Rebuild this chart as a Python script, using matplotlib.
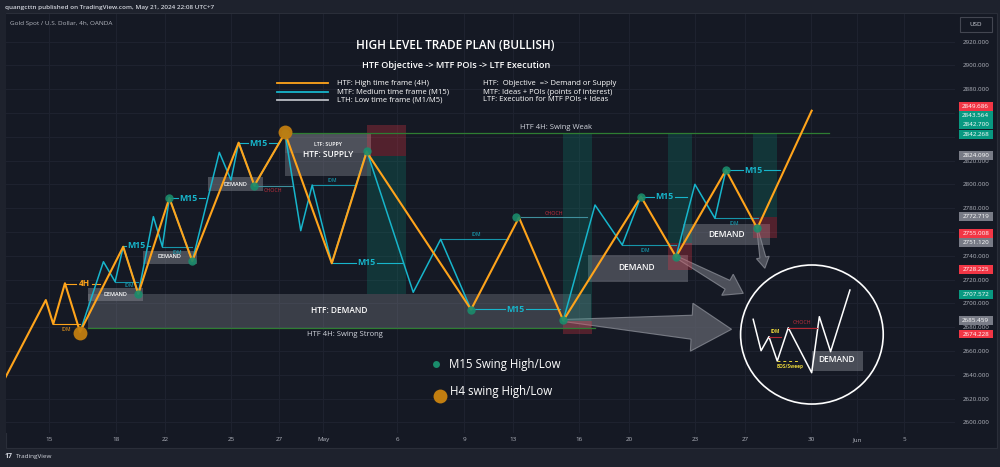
import numpy as np
import matplotlib.pyplot as plt
from matplotlib.patches import Rectangle, Ellipse, Polygon

plt.rcParams['font.family'] = ['Open Sans', 'DejaVu Sans']

BG = '#151924'
FRAME = '#1e222d'
GRID = '#1f2330'
ORANGE = '#ffa41b'
CYAN = '#17b5cb'
DOT_GREEN = '#1a8c6c'
DOT_ORANGE = '#c27e10'
RED_TXT = '#c9303f'
TXT = '#d1d4dc'
AXIS_TXT = '#b2b5be'

# ---- axes: x in trading days from the "15" tick, y in USD ----
date_pos = [0, 3.0, 5.18, 8.11, 10.24, 12.2, 15.49, 18.47, 20.64, 23.58, 25.8, 28.73, 30.96, 33.89, 35.93, 38.02]
date_lbl = ['15', '18', '22', '25', '27', 'May', '6', '9', '13', '16', '20', '23', '27', '30', 'Jun', '5']
price_ticks = np.arange(2600, 2921, 20)

# HTF (4H) swing path
htf_x = [-1.93, -0.12, 0.21, 0.73, 1.40, 3.32, 3.99, 5.37, 6.39, 8.45, 9.15, 10.51,
         12.59, 14.14, 18.78, 20.91, 22.88, 26.33, 27.89, 30.11, 31.50, 33.92]
htf_y = [2637.2, 2702.8, 2682.6, 2716.9, 2676.0, 2747.6, 2708.0, 2788.6, 2735.6, 2835.1, 2799.1, 2843.2,
         2733.7, 2827.3, 2694.8, 2772.2, 2685.6, 2789.8, 2739.2, 2812.1, 2763.1, 2862.0]

# MTF (M15) path, nan = break
nan = np.nan
mtf_x = [1.40, 2.44, 2.96, 3.32, 3.99, 4.66, 5.06, 5.37, 6.39, 7.59, 8.11, 8.45, 9.15, 10.51,
         11.21, 11.72, 12.59, 14.14, 16.21, 17.43, 18.78, nan,
         22.88, 24.29, 25.50, 26.33, nan,
         27.89, 28.73, 29.62, 30.11]
mtf_y = [2676.0, 2735.0, 2718.2, 2747.6, 2708.0, 2772.9, 2747.6, 2788.6, 2735.6, 2827.0, 2803.7, 2835.1, 2799.1, 2843.2,
         2761.1, 2799.5, 2733.7, 2828.5, 2709.3, 2753.9, 2694.8, nan,
         2685.6, 2782.7, 2749.1, 2789.8, nan,
         2739.2, 2800.1, 2771.5, 2812.1]

# swing points
m15_dot_x = [3.99, 5.37, 6.39, 9.15, 10.51, 14.14, 18.78, 20.76, 22.88, 26.33, 27.89, 30.11, 31.50]
m15_dot_y = [2708.0, 2788.6, 2735.6, 2799.1, 2843.2, 2828.3, 2694.8, 2772.6, 2685.6, 2789.8, 2739.2, 2812.1, 2763.1]
h4_dot_x = [1.40, 10.51]
h4_dot_y = [2675.0, 2843.8]

# M15 swing levels: start, end, price, label x
m15_x0 = [3.32, 5.37, 8.45, 12.59, 18.78, 26.33, 30.11]
m15_x1 = [4.51, 6.96, 10.20, 15.70, 22.73, 28.36, 32.51]
m15_lvl = [2748.5, 2788.3, 2834.6, 2734.2, 2695.0, 2789.7, 2812.1]
m15_lx = [3.92, 6.21, 9.32, 14.14, 20.76, 27.36, 31.32]

# IDM levels (cyan): start, end, price, label x, label price
idm_x0 = [2.96, 5.06, 11.72, 17.43, 25.50, 29.62]
idm_x1 = [3.98, 6.39, 13.62, 20.44, 27.89, 31.55]
idm_lvl = [2718.2, 2747.1, 2799.5, 2753.9, 2749.1, 2771.5]
idm_lx = [3.58, 5.72, 12.59, 19.03, 26.52, 30.48]
idm_ly = [2714.6, 2742.9, 2803.1, 2757.5, 2744.6, 2767.3]

# CHOCH levels
choch_x0 = [9.15, 20.99]
choch_x1 = [10.88, 23.92]
choch_lvl = [2798.9, 2772.3]
choch_lx = [9.99, 22.48]
choch_ly = [2795.3, 2775.7]

# position tools (entry / stop / target)
pos_x0 = [14.14, 22.88, 27.55, 31.32]
pos_x1 = [15.88, 24.14, 28.60, 32.39]
pos_entry = [2824.090, 2685.459, 2751.120, 2772.719]
pos_stop = [2849.686, 2674.228, 2728.225, 2755.008]
pos_target = [2707.572, 2843.564, 2842.700, 2842.268]

# zones: x0, x1, top, bottom, label, label x, label y, font size, alpha
zone_x0 = [1.76, 10.51, 10.51, 1.77, 4.19, 7.10, 23.96, 28.21, 33.92]
zone_x1 = [24.11, 14.33, 14.33, 4.19, 6.59, 9.52, 28.44, 32.07, 36.19]
zone_top = [2707.9, 2843.2, 2843.2, 2712.7, 2744.3, 2806.0, 2740.7, 2766.5, 2660.2]
zone_bot = [2679.3, 2807.0, 2826.4, 2702.0, 2733.1, 2794.7, 2718.2, 2749.1, 2643.4]
zone_lbl = ['HTF: DEMAND', 'HTF: SUPPLY', 'LTF: SUPPY', 'DEMAND', 'DEMAND', 'DEMAND', 'DEMAND', 'DEMAND', 'DEMAND']
zone_lx = [12.93, 12.41, 12.41, 2.96, 5.36, 8.29, 26.14, 30.14, 35.03]
zone_ly = [2693.8, 2825.3, 2833.8, 2707.3, 2739.0, 2800.3, 2730.0, 2758.1, 2652.4]
zone_fs = [6.0, 6.0, 3.8, 4.0, 4.0, 4.0, 6.0, 6.0, 6.0]
zone_alpha = [0.32, 0.38, 0.18, 0.45, 0.45, 0.45, 0.42, 0.42, 0.45]

# inset (LTF execution sketch)
zig_x = [31.32, 31.67, 32.02, 32.39, 32.88, 33.92, 34.26, 34.76, 35.62]
zig_y = [2686.6, 2660.2, 2672.0, 2651.5, 2679.5, 2641.7, 2688.8, 2659.4, 2711.2]

# arrows: start, tip, (tail, neck, head, head length) in pixels
arrow_start = [(22.88, 2685.6), (27.89, 2739.2), (31.50, 2763.1)]
arrow_end = [(30.36, 2678.2), (30.88, 2708.4), (31.84, 2729.5)]
arrow_size = [(2, 24, 48, 40), (2, 10, 24, 18), (1, 6, 13, 11)]

fig = plt.figure(figsize=(10, 4.67), dpi=100)
fig.patch.set_facecolor(FRAME)
fig.patches.append(Rectangle((0.006, 1 - 448 / 467), 0.991, (448 - 13.3) / 467, transform=fig.transFigure,
                             facecolor=BG, edgecolor='#2a2e39', lw=0.8, zorder=-10))
ax = fig.add_axes([0.006, 1 - 433 / 467, 0.949, 419 / 467])
ax.set_facecolor(BG)
ax.set_xlim(-1.89, 40.29)
ax.set_ylim(2591.0, 2943.3)
for s in ax.spines.values():
    s.set_visible(False)
ax.set_xticks(date_pos)
ax.set_xticklabels(date_lbl)
ax.set_yticks(price_ticks)
ax.set_yticklabels([f'{v:.3f}' for v in price_ticks])
ax.yaxis.tick_right()
ax.tick_params(axis='y', length=0, pad=5.8, labelsize=4.5, labelcolor=AXIS_TXT)
ax.tick_params(axis='x', length=0, pad=3.2, labelsize=4.5, labelcolor=AXIS_TXT)
ax.grid(True, color=GRID, lw=0.7, zorder=0)
ax.set_axisbelow(True)

# zones
for x0, x1, t, b, lbl, lx, ly, fs, a in zip(zone_x0, zone_x1, zone_top, zone_bot, zone_lbl,
                                            zone_lx, zone_ly, zone_fs, zone_alpha):
    ax.add_patch(Rectangle((x0, b), x1 - x0, t - b, facecolor='#8a8d96', alpha=a, lw=0, zorder=1))
    ax.text(lx, ly, lbl, fontsize=fs, color='white', ha='center', va='center', weight='semibold', zorder=6)

# arrows (drawn in pixel space from data points)
def fat_arrow(start, end, size):
    tail, neck, head, hl = size
    p0 = ax.transData.transform(start)
    p1 = ax.transData.transform(end)
    d = (p1 - p0) / np.hypot(*(p1 - p0))
    n = np.array([-d[1], d[0]])
    base = p1 - d * hl
    pts = np.array([p0 + n * tail / 2, base + n * neck / 2, base + n * head / 2, p1,
                    base - n * head / 2, base - n * neck / 2, p0 - n * tail / 2])
    pts = ax.transData.inverted().transform(pts)
    ax.add_patch(Polygon(pts, closed=True, facecolor='#60636d', edgecolor='#8d9099',
                         alpha=0.75, lw=0.8, zorder=1.5))

for s, e, sz in zip(arrow_start, arrow_end, arrow_size):
    fat_arrow(s, e, sz)

# position tools
for x0, x1, en, st, tg in zip(pos_x0, pos_x1, pos_entry, pos_stop, pos_target):
    ax.add_patch(Rectangle((x0, min(en, st)), x1 - x0, abs(st - en), facecolor='#f23645', alpha=0.28, lw=0, zorder=2))
    ax.add_patch(Rectangle((x0, min(en, tg)), x1 - x0, abs(tg - en), facecolor='#089981', alpha=0.22, lw=0, zorder=2))

# HTF swing weak / strong
ax.plot([10.51, 34.7], [2843.2, 2843.2], color='#2e7d32', lw=0.9, zorder=3)
ax.text(22.54, 2848.0, 'HTF 4H: Swing Weak', fontsize=5.5, color=TXT, ha='center', va='center', zorder=6)
ax.plot([1.76, 24.3], [2679.3, 2679.3], color='#2e7d32', lw=0.9, zorder=3)
ax.text(13.18, 2673.4, 'HTF 4H: Swing Strong', fontsize=5.5, color=TXT, ha='center', va='center', zorder=6)

# M15 levels with gap around the label
gap = 0.47
for x0, x1, y, lx in zip(m15_x0, m15_x1, m15_lvl, m15_lx):
    ax.plot([x0, lx - gap], [y, y], color=CYAN, lw=0.8, zorder=3)
    ax.plot([lx + gap, x1], [y, y], color=CYAN, lw=0.8, zorder=3)
    ax.text(lx, y, 'M15', fontsize=6.3, color=CYAN, ha='center', va='center', weight='bold', zorder=6)

for x0, x1, y, lx, ly in zip(idm_x0, idm_x1, idm_lvl, idm_lx, idm_ly):
    ax.plot([x0, x1], [y, y], color=CYAN, lw=0.8, alpha=0.8, zorder=3)
    ax.text(lx, ly, 'IDM', fontsize=3.6, color=CYAN, ha='center', va='center', zorder=6)

for x0, x1, y, lx, ly in zip(choch_x0, choch_x1, choch_lvl, choch_lx, choch_ly):
    ax.plot([x0, x1], [y, y], color='#3f8f9c', lw=0.8, zorder=3)
    ax.text(lx, ly, 'CHOCH', fontsize=3.8, color=RED_TXT, ha='center', va='center', zorder=6)

# 4H level and orange IDM
ax.plot([0.73, 1.58 - 0.36], [2716.3, 2716.3], color=ORANGE, lw=0.8, zorder=3)
ax.plot([1.58 + 0.36, 2.29], [2716.3, 2716.3], color=ORANGE, lw=0.8, zorder=3)
ax.text(1.58, 2716.3, '4H', fontsize=6.0, color=ORANGE, ha='center', va='center', weight='bold', zorder=6)
ax.plot([0.21, 1.40], [2682.4, 2682.4], color=ORANGE, lw=0.8, zorder=3)
ax.text(0.81, 2677.8, 'IDM', fontsize=3.6, color=ORANGE, ha='center', va='center', zorder=6)

# swing lines
ax.plot(mtf_x, mtf_y, color=CYAN, lw=1.1, zorder=4)
ax.plot(htf_x, htf_y, color=ORANGE, lw=1.5, zorder=4.5)
ax.plot(m15_dot_x, m15_dot_y, 'o', ms=6, color=DOT_GREEN, alpha=0.9, mec='none', zorder=5)
ax.plot(h4_dot_x, h4_dot_y, 'o', ms=10, color=DOT_ORANGE, alpha=0.95, mec='none', zorder=5)

# inset sketch
ax.add_patch(Ellipse((33.93, 2673.8), 6.34, 116.9, fill=False, ec='white', lw=1.2, zorder=6))
ax.plot(zig_x, zig_y, color='white', lw=1.1, zorder=6)
ax.plot([32.02, 32.54], [2672.0, 2672.0], color='#b22833', lw=0.8, zorder=6)
ax.text(32.29, 2676.2, 'IDM', fontsize=3.4, color='#e8d43a', ha='center', va='center', weight='bold', zorder=7)
ax.plot([32.88, 34.14], [2679.5, 2679.5], color='#b22833', lw=0.8, zorder=6)
ax.text(33.48, 2683.9, 'CHOCH', fontsize=3.8, color=RED_TXT, ha='center', va='center', zorder=7)
ax.plot([32.39, 33.40], [2651.5, 2651.5], color='#e8d43a', lw=0.7, ls=(0, (3, 3)), zorder=6)
ax.text(32.96, 2646.7, 'BOS/Sweep', fontsize=3.4, color='#e8d43a', ha='center', va='center', weight='bold', zorder=7)

# title block
ax.text(18.09, 2916.6, 'HIGH LEVEL TRADE PLAN (BULLISH)', fontsize=8.5, color='white',
        ha='center', va='center', weight='semibold', zorder=7)
ax.text(18.11, 2900.2, 'HTF Objective -> MTF POIs -> LTF Execution', fontsize=6.6, color='white',
        ha='center', va='center', weight='semibold', zorder=7)
leg_y = [2885.0, 2877.7, 2871.0]
leg_c = [ORANGE, CYAN, '#b8bbc2']
leg_left = ['HTF: High time frame (4H)', 'MTF: Medium time frame (M15)', 'LTH: Low time frame (M1/M5)']
leg_right = ['HTF:  Objective  => Demand or Supply', 'MTF: Ideas + POIs (points of interest)',
             'LTF: Execution for MTF POIs + Ideas']
for y, c, lt, rt in zip(leg_y, leg_c, leg_left, leg_right):
    ax.plot([10.14, 12.44], [y, y], color=c, lw=1.3, zorder=7)
    ax.text(12.81, y, lt, fontsize=5.5, color='white', ha='left', va='center', zorder=7)
    ax.text(19.32, y, rt, fontsize=5.5, color='white', ha='left', va='center', zorder=7)

# swing point legend
ax.plot([17.22], [2649.0], 'o', ms=5, color=DOT_GREEN, mec='none', zorder=7)
ax.text(17.81, 2649.0, 'M15 Swing High/Low', fontsize=8.3, color='white', ha='left', va='center', zorder=7)
ax.plot([17.40], [2622.1], 'o', ms=10, color=DOT_ORANGE, mec='none', zorder=7)
ax.text(17.84, 2625.7, 'H4 swing High/Low', fontsize=8.3, color='white', ha='left', va='center', zorder=7)

# price scale labels (stacked like TradingView when they overlap)
scale_lbl = [(v, '#f23645') for v in pos_stop] + [(v, '#089981') for v in pos_target] + \
            [(v, '#787b86') for v in pos_entry]
scale_lbl.sort(key=lambda t: t[0])
h = 7.8
last = -1e9
ytr = ax.get_yaxis_transform()
for v, c in scale_lbl:
    p = max(v, last + h)
    last = p
    ax.add_patch(Rectangle((1.0039, p - h / 2 + 0.2), 0.0358, h - 0.4, transform=ytr, facecolor=c,
                           lw=0, clip_on=False, zorder=8))
    ax.text(1.0218, p, f'{v:.3f}', transform=ytr, fontsize=4.5, color='white', ha='center', va='center',
            clip_on=False, zorder=9)

ax.add_patch(Rectangle((1.0053, 0.9578), 0.0334, 0.0343, transform=ax.transAxes, facecolor=BG,
                       edgecolor='#434651', lw=0.8, clip_on=False, zorder=8))
ax.text(1.022, 0.975, 'USD', transform=ax.transAxes, fontsize=4.5, color=TXT, ha='center', va='center',
        clip_on=False, zorder=9)

# header / footer
fig.text(0.005, 1 - 7 / 467, 'quangcttn published on TradingView.com, May 21, 2024 22:08 UTC+7',
         fontsize=4.6, color=TXT, ha='left', va='center', weight='semibold')
fig.text(0.010, 1 - 23 / 467, 'Gold Spot / U.S. Dollar, 4h, OANDA', fontsize=4.6, color=AXIS_TXT,
         ha='left', va='center')
fig.text(0.005, 1 - 456.7 / 467, '17', fontsize=5.0, color=TXT, ha='left', va='center', weight='bold')
fig.text(0.016, 1 - 456.7 / 467, 'TradingView', fontsize=4.6, color=TXT, ha='left', va='center')

fig.savefig('out.png', dpi=100, facecolor=fig.get_facecolor())
